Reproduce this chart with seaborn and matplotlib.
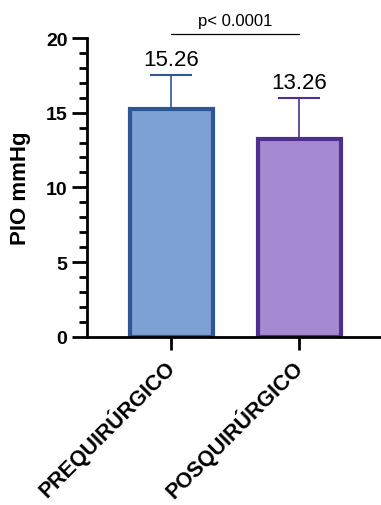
import matplotlib
matplotlib.use("Agg")
import matplotlib.pyplot as plt
import seaborn as sns
import pandas as pd
from matplotlib.ticker import MultipleLocator

# Intraocular pressure before and after surgery (mean ± SD)
groups = ["PREQUIRÚRGICO", "POSQUIRÚRGICO"]
means = [15.26, 13.26]
sds = [2.27, 2.75]
fill_colors = ["#7EA1D4", "#A58AD2"]
edge_colors = ["#2C5696", "#4E2F8E"]
p_text = "p< 0.0001"

sns.set_style("white")
plt.rcParams["font.family"] = ["Liberation Sans", "DejaVu Sans"]
plt.rcParams["text.color"] = "black"
plt.rcParams["axes.labelcolor"] = "black"
plt.rcParams["xtick.color"] = "black"
plt.rcParams["ytick.color"] = "black"

df = pd.DataFrame({"grupo": groups, "pio": means})

fig = plt.figure(figsize=(3.81, 5.06), dpi=100)
ax = fig.add_axes([0.228, 0.3326, 0.772, 0.5903])

sns.barplot(data=df, x="grupo", y="pio", hue="grupo", palette=fill_colors,
            saturation=1, errorbar=None, width=0.65, legend=False, ax=ax)

for patch, ec in zip(ax.patches, edge_colors):
    patch.set_edgecolor(ec)
    patch.set_linewidth(3)
    patch.set_zorder(2)

# Upper-only SD error bars
for i, (m, s, ec) in enumerate(zip(means, sds, edge_colors)):
    ax.errorbar(i, m, yerr=[[0], [s]], fmt="none", ecolor=ec,
                elinewidth=1.2, capsize=15, capthick=1.5, zorder=1)
    ax.text(i, m + s + 0.3, f"{m:.2f}", ha="center", va="bottom",
            fontsize=16, color="black")

# Significance bracket
ax.plot([0, 1], [20.27, 20.27], color="black", lw=0.9, clip_on=False)
ax.text(0.5, 20.65, p_text, ha="center", va="bottom", fontsize=12)

ax.set_xlim(-0.66, 1.637)
ax.set_ylim(0, 20)
ax.yaxis.set_major_locator(MultipleLocator(5))
ax.yaxis.set_minor_locator(MultipleLocator(1))

for side in ["top", "right"]:
    ax.spines[side].set_visible(False)
for side in ["left", "bottom"]:
    ax.spines[side].set_linewidth(2)
    ax.spines[side].set_color("black")

ax.tick_params(axis="y", which="major", length=11, width=2, left=True,
               labelsize=14, pad=3)
ax.tick_params(axis="y", which="minor", length=6, width=2, left=True)
ax.tick_params(axis="x", which="major", length=9, width=2, bottom=True,
               labelsize=15.5, pad=10)
for lbl in ax.get_yticklabels():
    lbl.set_fontweight("bold")

ax.set_xticks([0, 1])
ax.set_xticklabels(groups, rotation=45, ha="right", va="center",
                   rotation_mode="anchor", fontweight="bold")

ax.set_xlabel("")
ax.set_ylabel("PIO mmHg", fontsize=16, fontweight="bold")
ax.yaxis.set_label_coords(-0.19, 0.5)

fig.savefig("out.png", dpi=100)
